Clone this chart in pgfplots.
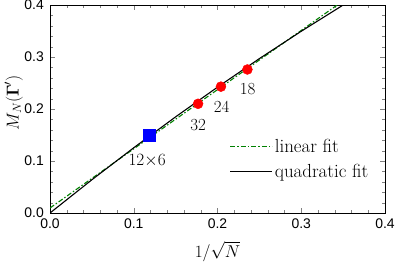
\documentclass[border=0pt]{standalone}
\usepackage{fontspec}
\setsansfont{Liberation Sans}
\usepackage{amsmath}
\usepackage{pgfplots}
\pgfplotsset{compat=1.18}
\definecolor{fitgreen}{rgb}{0,0.5,0}
\pgfplotsset{longline/.style={legend image code/.code={\draw[mark repeat=2,mark phase=2,##1] plot coordinates {(0bp,0bp) (21bp,0bp) (42bp,0bp)};}}}
\begin{document}
\begin{tikzpicture}
\begin{axis}[
  scale only axis,
  width=335bp, height=208bp,
  xmin=0, xmax=0.4, ymin=0, ymax=0.4,
  xtick={0,0.1,0.2,0.3,0.4}, ytick={0,0.1,0.2,0.3,0.4},
  minor x tick num=4, minor y tick num=4,
  tick align=inside,
  axis line style={line width=0.7pt},
  xticklabel style={/pgf/number format/fixed,/pgf/number format/fixed zerofill,/pgf/number format/precision=1, yshift=-5bp},
  yticklabel style={/pgf/number format/fixed,/pgf/number format/fixed zerofill,/pgf/number format/precision=1, xshift=-5bp},
  /pgf/number format/assume math mode=true,
  ticklabel style={font=\sffamily\fontsize{14}{16}\selectfont, inner sep=1bp},
  major tick length=5bp, minor tick length=3bp,
  xlabel={$1/\sqrt{N}$}, ylabel={$M_N(\boldsymbol{\Gamma}')$},
  label style={font=\fontsize{17}{19}\selectfont, inner sep=0pt},
  xlabel style={at={(axis description cs:0.5,-0.185)}, anchor=center},
  ylabel style={at={(axis description cs:-0.108,0.53)}, anchor=center},
  legend style={draw=none, fill=none, at={(0.96,0.15)}, anchor=south east, font=\fontsize{19}{21}\selectfont, row sep=6bp, inner sep=1bp},
  legend cell align=left,
  longline,
  clip=true,
]
\addplot[color=fitgreen, draw=fitgreen, line width=1.1pt, dash pattern=on 5bp off 2bp on 1.5bp off 2bp] coordinates {(0,0.0096) (0.35,0.408)};
\addlegendentry{linear fit}
\addplot[color=black, line width=1.1pt] coordinates {(0,0) (0.05,0.0639) (0.1,0.1255) (0.15,0.1849) (0.2,0.242) (0.25,0.2969) (0.3,0.3495) (0.35,0.3999) (0.36,0.4097)};
\addlegendentry{quadratic fit}
\addplot[only marks, mark=square*, mark size=6bp, color=blue, forget plot] coordinates {(0.1179,0.149)};
\addplot[only marks, mark=*, mark size=5bp, color=red, mark options={draw=red}, forget plot] coordinates {(0.1768,0.21) (0.2041,0.243) (0.2357,0.276)};
\node[font=\fontsize{17}{19}\selectfont] at (axis cs:0.116,0.1) {$12{\times}6$};
\node[font=\fontsize{17}{19}\selectfont] at (axis cs:0.177,0.169) {32};
\node[font=\fontsize{17}{19}\selectfont] at (axis cs:0.205,0.204) {24};
\node[font=\fontsize{17}{19}\selectfont] at (axis cs:0.236,0.238) {18};
\end{axis}
\pgfresetboundingbox
\path ([shift={(-50bp,-49bp)}]current axis.south west) rectangle ([shift={(10bp,5bp)}]current axis.north east);
\end{tikzpicture}
\end{document}
